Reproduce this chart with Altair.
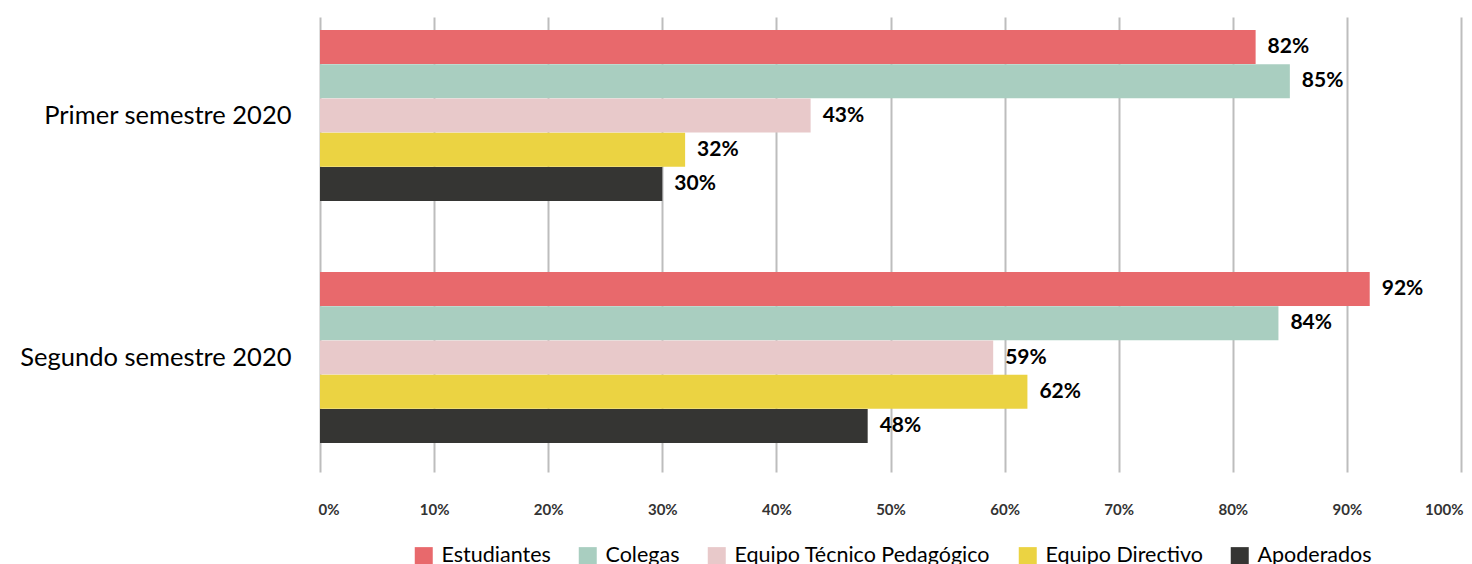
import altair as alt
import pandas as pd

periods = ["Primer semestre 2020", "Segundo semestre 2020"]
groups = ["Estudiantes", "Colegas", "Equipo Técnico Pedagógico", "Equipo Directivo", "Apoderados"]
primer = [82, 85, 43, 32, 30]
segundo = [92, 84, 59, 62, 48]
colors = ["#E8696C", "#A9CEC0", "#E8C9CA", "#EBD342", "#353533"]
x_ticks = [0, 10, 20, 30, 40, 50, 60, 70, 80, 90, 100]

rows = []
for p, vals in zip(periods, [primer, segundo]):
    for g, v in zip(groups, vals):
        rows.append({"period": p, "group": g, "value": v, "label": f"{v}%"})
df = pd.DataFrame(rows)

FONT = "Lato"

y_enc = alt.Y("period:N", sort=periods, title=None,
              scale=alt.Scale(paddingInner=0.293, paddingOuter=0.0866, align=0.31),
              axis=alt.Axis(domain=False, ticks=False, labelFontSize=25.5, labelColor="#000000",
                            labelPadding=29, labelLimit=400, labelFont=FONT))
yoff_enc = alt.YOffset("group:N", sort=groups, scale=alt.Scale(paddingInner=0, paddingOuter=0))

base = alt.Chart(df)

bars = base.mark_bar(size=34).encode(
    x=alt.X("value:Q", title=None,
            scale=alt.Scale(domain=[0, 100], nice=False),
            axis=alt.Axis(values=x_ticks, labelExpr="datum.value + '%'", grid=True,
                          gridColor="#BDBDBD", gridWidth=2, domain=False, ticks=False,
                          labelFlush=True, labelFlushOffset=2,
                          labelPadding=30, labelFontSize=15, labelFontWeight="bold",
                          labelColor="#333333", labelFont=FONT)),
    y=y_enc,
    yOffset=yoff_enc,
    color=alt.Color("group:N", sort=groups,
                    scale=alt.Scale(domain=groups, range=colors),
                    legend=alt.Legend(title=None, orient="none", direction="horizontal",
                                      legendX=93, legendY=528, symbolType="square",
                                      symbolSize=324, symbolStrokeWidth=0, symbolOpacity=1,
                                      labelFontSize=21.5, labelColor="#000000", labelFont=FONT,
                                      columnPadding=26, labelOffset=7, labelLimit=400,
                                      padding=0)),
)

labels = base.mark_text(align="left", baseline="middle", dx=12, fontSize=21,
                        fontWeight="bold", font=FONT, color="#000000").encode(
    x="value:Q",
    y=alt.Y("period:N", sort=periods),
    yOffset=alt.YOffset("group:N", sort=groups),
    text="label:N",
)

chart = (bars + labels).properties(
    width=1141, height=455,
    autosize=alt.AutoSizeParams(type="none"),
    padding={"left": 312, "top": 9, "right": 3, "bottom": 92},
).configure_view(stroke=None)

chart.save("out.html", embed_options={"renderer": "svg", "actions": False})
